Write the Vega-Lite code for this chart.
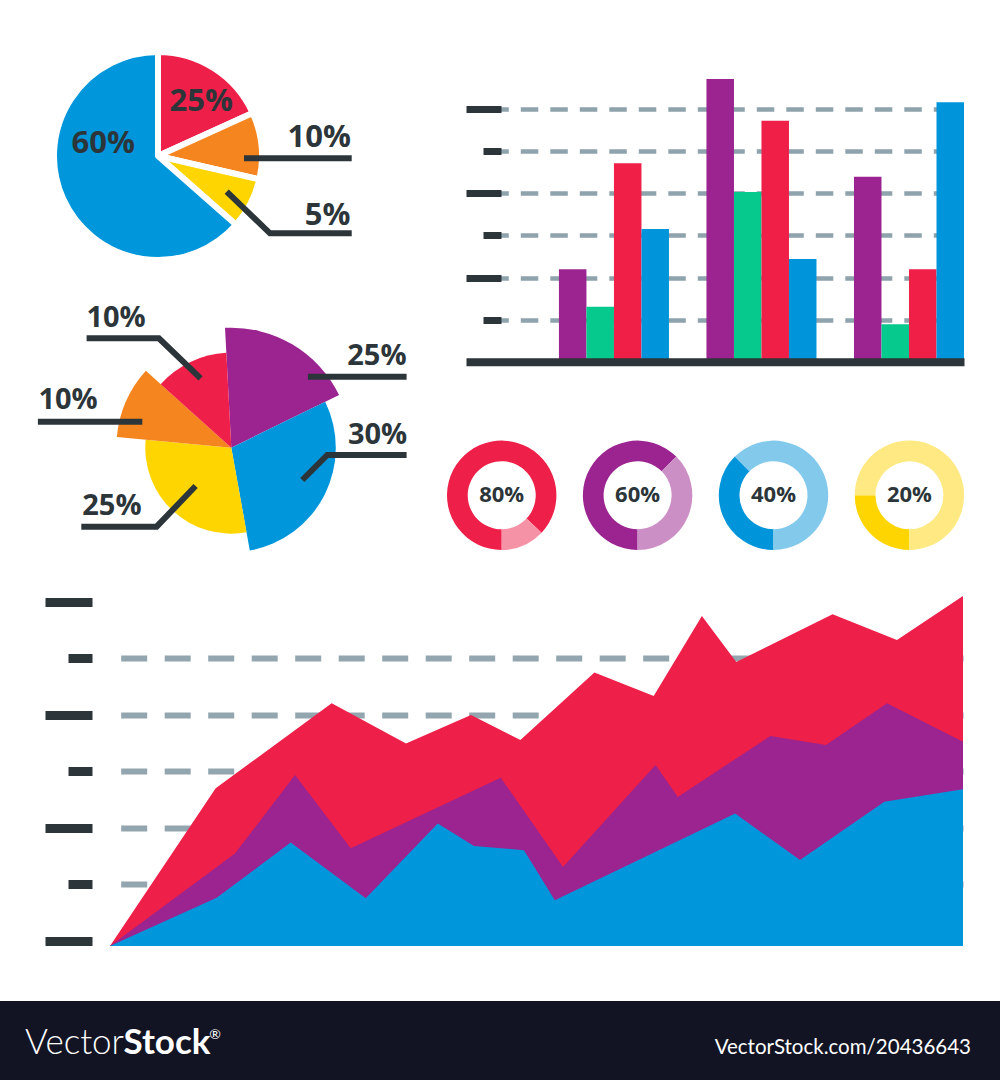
{
  "$schema": "https://vega.github.io/schema/vega-lite/v6.json",
  "background": "#ffffff",
  "padding": 0,
  "spacing": 0,
  "resolve": {"scale": {"color": "independent", "theta": "independent", "radius": "independent"}},
  "config": {"view": {"stroke": null}, "font": "Open Sans"},
  "datasets": {
    "pie1": [
      {"label": "25%", "share": 18.2, "seq": 1},
      {"label": "10%", "share": 10.4, "seq": 2},
      {"label": "5%", "share": 7.9, "seq": 3},
      {"label": "60%", "share": 63.5, "seq": 4}
    ],
    "pie1Leaders": [
      {"leader": "10%", "seq": 1, "x": 0.86, "y": -0.023},
      {"leader": "10%", "seq": 2, "x": 1.937, "y": -0.023},
      {"leader": "5%", "seq": 1, "x": 0.687, "y": -0.357},
      {"leader": "5%", "seq": 2, "x": 1.12, "y": -0.773},
      {"leader": "5%", "seq": 3, "x": 1.937, "y": -0.773}
    ],
    "pie1Labels": [
      {"text": "25%", "x": 0.433, "y": 0.453},
      {"text": "60%", "x": -0.547, "y": 0.027},
      {"text": "10%", "x": 1.613, "y": 0.093},
      {"text": "5%", "x": 1.695, "y": -0.69}
    ],
    "pie2": [
      {"segment": "S1", "from": 0, "to": 18.6, "reach": 12},
      {"segment": "S2", "from": 18.6, "to": 48.0, "reach": 10.45},
      {"segment": "S3", "from": 48.0, "to": 77.3, "reach": 8.6},
      {"segment": "S4", "from": 77.3, "to": 87.5, "reach": 11.5},
      {"segment": "S5", "from": 87.5, "to": 100, "reach": 9.5}
    ],
    "pie2Leaders": [
      {"leader": "L1", "seq": 1, "x": -0.307, "y": 0.694},
      {"leader": "L1", "seq": 2, "x": -0.724, "y": 1.094},
      {"leader": "L1", "seq": 3, "x": -1.447, "y": 1.094},
      {"leader": "L2", "seq": 1, "x": -0.89, "y": 0.26},
      {"leader": "L2", "seq": 2, "x": -1.934, "y": 0.26},
      {"leader": "L3", "seq": 1, "x": -0.357, "y": -0.383},
      {"leader": "L3", "seq": 2, "x": -0.747, "y": -0.79},
      {"leader": "L3", "seq": 3, "x": -1.5, "y": -0.79},
      {"leader": "L4", "seq": 1, "x": 0.766, "y": 0.71},
      {"leader": "L4", "seq": 2, "x": 1.753, "y": 0.71},
      {"leader": "L5", "seq": 1, "x": 0.71, "y": -0.323},
      {"leader": "L5", "seq": 2, "x": 0.96, "y": -0.073},
      {"leader": "L5", "seq": 3, "x": 1.753, "y": -0.073}
    ],
    "pie2Labels": [
      {"text": "10%", "x": -1.152, "y": 1.21},
      {"text": "10%", "x": -1.632, "y": 0.387},
      {"text": "25%", "x": -1.194, "y": -0.673},
      {"text": "25%", "x": 1.456, "y": 0.827},
      {"text": "30%", "x": 1.463, "y": 0.037}
    ],
    "bars": [
      {"group": "G1", "series": "S1", "value": 2.196},
      {"group": "G1", "series": "S2", "value": 1.307},
      {"group": "G1", "series": "S3", "value": 4.716},
      {"group": "G1", "series": "S4", "value": 3.154},
      {"group": "G2", "series": "S1", "value": 6.72},
      {"group": "G2", "series": "S2", "value": 4.034},
      {"group": "G2", "series": "S3", "value": 5.729},
      {"group": "G2", "series": "S4", "value": 2.441},
      {"group": "G3", "series": "S1", "value": 4.397},
      {"group": "G3", "series": "S2", "value": 0.889},
      {"group": "G3", "series": "S3", "value": 2.196},
      {"group": "G3", "series": "S4", "value": 6.166}
    ],
    "donuts": [
      {"ring": "80%", "part": "filled", "share": 87, "seq": 1},
      {"ring": "80%", "part": "rest", "share": 13, "seq": 2},
      {"ring": "60%", "part": "filled", "share": 62.5, "seq": 1},
      {"ring": "60%", "part": "rest", "share": 37.5, "seq": 2},
      {"ring": "40%", "part": "filled", "share": 37.5, "seq": 1},
      {"ring": "40%", "part": "rest", "share": 62.5, "seq": 2},
      {"ring": "20%", "part": "filled", "share": 25, "seq": 1},
      {"ring": "20%", "part": "rest", "share": 75, "seq": 2}
    ],
    "areas": [
      {"series": "A", "t": 0, "v": -0.09},
      {"series": "A", "t": 12.39, "v": 2.703},
      {"series": "A", "t": 25.99, "v": 4.207},
      {"series": "A", "t": 34.7, "v": 3.492},
      {"series": "A", "t": 42.32, "v": 4.0},
      {"series": "A", "t": 48.11, "v": 3.558},
      {"series": "A", "t": 56.79, "v": 4.749},
      {"series": "A", "t": 63.74, "v": 4.336},
      {"series": "A", "t": 69.39, "v": 5.752},
      {"series": "A", "t": 73.42, "v": 4.938},
      {"series": "A", "t": 84.71, "v": 5.782},
      {"series": "A", "t": 92.26, "v": 5.327},
      {"series": "A", "t": 100, "v": 6.106},
      {"series": "B", "t": 0, "v": -0.09},
      {"series": "B", "t": 14.65, "v": 1.545},
      {"series": "B", "t": 21.69, "v": 2.938},
      {"series": "B", "t": 28.22, "v": 1.641},
      {"series": "B", "t": 45.8, "v": 2.89},
      {"series": "B", "t": 53.11, "v": 1.31},
      {"series": "B", "t": 63.96, "v": 3.115},
      {"series": "B", "t": 66.57, "v": 2.549},
      {"series": "B", "t": 77.42, "v": 3.628},
      {"series": "B", "t": 83.94, "v": 3.469},
      {"series": "B", "t": 91.09, "v": 4.207},
      {"series": "B", "t": 100, "v": 3.527},
      {"series": "C", "t": 0, "v": -0.09},
      {"series": "C", "t": 12.51, "v": 0.766},
      {"series": "C", "t": 21.18, "v": 1.74},
      {"series": "C", "t": 29.98, "v": 0.756},
      {"series": "C", "t": 38.43, "v": 2.076},
      {"series": "C", "t": 42.67, "v": 1.681},
      {"series": "C", "t": 48.53, "v": 1.605},
      {"series": "C", "t": 52.15, "v": 0.72},
      {"series": "C", "t": 73.29, "v": 2.253},
      {"series": "C", "t": 80.89, "v": 1.434},
      {"series": "C", "t": 90.78, "v": 2.465},
      {"series": "C", "t": 100, "v": 2.685}
    ]
  },
  "vconcat": [
    {
      "hconcat": [
        {
          "vconcat": [
            {
              "width": 316,
              "height": 312,
              "layer": [
                {
                  "data": {"name": "pie1"},
                  "mark": {"type": "arc", "outerRadius": 104, "stroke": "#ffffff", "strokeWidth": 6, "strokeJoin": "round"},
                  "encoding": {
                    "theta": {"field": "share", "type": "quantitative", "stack": true},
                    "order": {"field": "seq", "type": "quantitative"},
                    "color": {"field": "label", "type": "nominal", "scale": {"domain": ["25%", "10%", "5%", "60%"], "range": ["#ee1f48", "#f5861f", "#ffd500", "#0096db"]}, "legend": null}
                  }
                },
                {
                  "data": {"name": "pie1Leaders"},
                  "mark": {"type": "line", "color": "#2c3539", "strokeWidth": 6, "strokeCap": "butt"},
                  "encoding": {
                    "x": {"field": "x", "type": "quantitative", "scale": {"domain": [-1.58, 1.58], "nice": false, "zero": false}, "axis": null},
                    "y": {"field": "y", "type": "quantitative", "scale": {"domain": [-1.56, 1.56], "nice": false, "zero": false}, "axis": null},
                    "detail": {"field": "leader", "type": "nominal"},
                    "order": {"field": "seq", "type": "quantitative"}
                  }
                },
                {
                  "data": {"name": "pie1Labels"},
                  "mark": {"type": "text", "font": "Open Sans", "fontSize": 31, "fontWeight": "bold", "color": "#2c3539", "align": "center", "baseline": "alphabetic"},
                  "encoding": {
                    "x": {"field": "x", "type": "quantitative"},
                    "y": {"field": "y", "type": "quantitative"},
                    "text": {"field": "text", "type": "nominal"}
                  }
                }
              ]
            },
            {
              "hconcat": [
                {"width": 16.4, "height": 1, "data": {"values": []}, "mark": {"type": "point", "opacity": 0}},
                {
                  "width": 428.6,
                  "height": 271.4,
                  "layer": [
                    {
                      "data": {"name": "pie2"},
                      "mark": {"type": "arc"},
                      "encoding": {
                        "theta": {"field": "from", "type": "quantitative", "stack": null, "scale": {"domain": [0, 100], "range": [-0.0524, 6.2308]}},
                        "theta2": {"field": "to"},
                        "radius": {"field": "reach", "type": "quantitative", "scale": {"type": "linear", "domain": [0, 12], "range": [0, 120]}},
                        "radius2": {"datum": 0},
                        "color": {"field": "segment", "type": "nominal", "scale": {"domain": ["S1", "S2", "S3", "S4", "S5"], "range": ["#9b2490", "#0096db", "#ffd500", "#f5861f", "#ee1f48"]}, "legend": null}
                      }
                    },
                    {
                      "data": {"name": "pie2Leaders"},
                      "mark": {"type": "line", "color": "#2c3539", "strokeWidth": 6, "strokeCap": "butt"},
                      "encoding": {
                        "x": {"field": "x", "type": "quantitative", "scale": {"domain": [-2.143, 2.143], "nice": false, "zero": false}, "axis": null},
                        "y": {"field": "y", "type": "quantitative", "scale": {"domain": [-1.357, 1.357], "nice": false, "zero": false}, "axis": null},
                        "detail": {"field": "leader", "type": "nominal"},
                        "order": {"field": "seq", "type": "quantitative"}
                      }
                    },
                    {
                      "data": {"name": "pie2Labels"},
                      "mark": {"type": "text", "font": "Open Sans", "fontSize": 29, "fontWeight": "bold", "color": "#2c3539", "align": "center", "baseline": "alphabetic"},
                      "encoding": {
                        "x": {"field": "x", "type": "quantitative"},
                        "y": {"field": "y", "type": "quantitative"},
                        "text": {"field": "text", "type": "nominal"}
                      }
                    }
                  ]
                }
              ],
              "spacing": 0,
              "bounds": "flush",
              "resolve": {"scale": {"color": "independent", "theta": "independent", "radius": "independent"}}
            }
          ],
          "spacing": 0,
          "bounds": "flush",
          "resolve": {"scale": {"color": "independent", "theta": "independent", "radius": "independent"}}
        },
        {
          "vconcat": [
            {
              "width": 518,
              "height": 366,
              "data": {"name": "bars"},
              "mark": {"type": "bar"},
              "encoding": {
                "x": {"field": "group", "type": "nominal", "scale": {"paddingInner": 0.2542, "paddingOuter": 0.3828, "align": 1},
                      "axis": {"title": null, "labels": false, "ticks": false, "grid": false, "domain": true, "domainWidth": 8, "domainColor": "#2c3539", "domainDash": [0, 20, 500], "offset": -4.3, "zindex": 1}},
                "xOffset": {"field": "series", "type": "nominal", "scale": {"paddingInner": 0, "paddingOuter": 0}},
                "y": {"field": "value", "type": "quantitative", "scale": {"domain": [-0.1022, 8.598], "nice": false},
                      "axis": {"title": null, "labels": false, "domain": false, "values": [1, 2, 3, 4, 5, 6], "offset": -55,
                               "tickSize": {"condition": {"test": "datum.value % 2 === 0", "value": 35}, "value": 18},
                               "tickWidth": 7, "tickColor": "#2c3539",
                               "grid": true, "gridColor": "#8fa3ad", "gridWidth": 4.5,
                               "gridDash": [0, 44.8, 17.5, 12, 17.5, 12, 17.5, 12, 17.5, 12, 17.5, 12, 17.5, 12, 17.5, 12, 17.5, 12, 17.5, 12, 17.5, 12, 17.5, 12, 17.5, 12, 17.5, 12, 17.5, 12, 17.5, 12, 17.5, 12]}},
                "color": {"field": "series", "type": "nominal", "scale": {"domain": ["S1", "S2", "S3", "S4"], "range": ["#9b2490", "#06c98e", "#ef1f48", "#0095da"]}, "legend": null}
              }
            },
            {"width": 1, "height": 30.4, "data": {"values": []}, "mark": {"type": "point", "opacity": 0}},
            {
              "hconcat": [
                {
                  "width": 111.4, "height": 196.6,
                  "data": {"name": "donuts"},
                  "transform": [{"filter": "datum.ring === '80%'"}],
                  "layer": [
                    {"mark": {"type": "arc", "innerRadius": 34, "outerRadius": 54.7},
                     "encoding": {"theta": {"field": "share", "type": "quantitative", "stack": true, "scale": {"range": [3.14159, 9.42478]}},
                                  "order": {"field": "seq", "type": "quantitative"},
                                  "color": {"field": "part", "type": "nominal", "scale": {"domain": ["filled", "rest"], "range": ["#ee1f48", "#f592a6"]}, "legend": null}}},
                    {"transform": [{"filter": "datum.part === 'filled'"}],
                     "mark": {"type": "text", "font": "Open Sans", "fontWeight": "bold", "fontSize": 22, "color": "#2c3539", "baseline": "middle"},
                     "encoding": {"text": {"field": "ring", "type": "nominal"}}}
                  ]
                },
                {
                  "width": 111.4, "height": 196.6,
                  "data": {"name": "donuts"},
                  "transform": [{"filter": "datum.ring === '60%'"}],
                  "layer": [
                    {"mark": {"type": "arc", "innerRadius": 34, "outerRadius": 54.7},
                     "encoding": {"theta": {"field": "share", "type": "quantitative", "stack": true, "scale": {"range": [3.14159, 9.42478]}},
                                  "order": {"field": "seq", "type": "quantitative"},
                                  "color": {"field": "part", "type": "nominal", "scale": {"domain": ["filled", "rest"], "range": ["#9b2490", "#cb8fc5"]}, "legend": null}}},
                    {"transform": [{"filter": "datum.part === 'filled'"}],
                     "mark": {"type": "text", "font": "Open Sans", "fontWeight": "bold", "fontSize": 22, "color": "#2c3539", "baseline": "middle"},
                     "encoding": {"text": {"field": "ring", "type": "nominal"}}}
                  ]
                },
                {
                  "width": 111.4, "height": 196.6,
                  "data": {"name": "donuts"},
                  "transform": [{"filter": "datum.ring === '40%'"}],
                  "layer": [
                    {"mark": {"type": "arc", "innerRadius": 34, "outerRadius": 54.7},
                     "encoding": {"theta": {"field": "share", "type": "quantitative", "stack": true, "scale": {"range": [3.14159, 9.42478]}},
                                  "order": {"field": "seq", "type": "quantitative"},
                                  "color": {"field": "part", "type": "nominal", "scale": {"domain": ["filled", "rest"], "range": ["#0095da", "#82c9ec"]}, "legend": null}}},
                    {"transform": [{"filter": "datum.part === 'filled'"}],
                     "mark": {"type": "text", "font": "Open Sans", "fontWeight": "bold", "fontSize": 22, "color": "#2c3539", "baseline": "middle"},
                     "encoding": {"text": {"field": "ring", "type": "nominal"}}}
                  ]
                },
                {
                  "width": 111.4, "height": 196.6,
                  "data": {"name": "donuts"},
                  "transform": [{"filter": "datum.ring === '20%'"}],
                  "layer": [
                    {"mark": {"type": "arc", "innerRadius": 34, "outerRadius": 54.7},
                     "encoding": {"theta": {"field": "share", "type": "quantitative", "stack": true, "scale": {"range": [3.14159, 9.42478]}},
                                  "order": {"field": "seq", "type": "quantitative"},
                                  "color": {"field": "part", "type": "nominal", "scale": {"domain": ["filled", "rest"], "range": ["#ffd500", "#ffe982"]}, "legend": null}}},
                    {"transform": [{"filter": "datum.part === 'filled'"}],
                     "mark": {"type": "text", "font": "Open Sans", "fontWeight": "bold", "fontSize": 22, "color": "#2c3539", "baseline": "middle"},
                     "encoding": {"text": {"field": "ring", "type": "nominal"}}}
                  ]
                }
              ],
              "spacing": 23.9,
              "bounds": "flush",
              "resolve": {"scale": {"color": "independent", "theta": "independent", "radius": "independent"}}
            }
          ],
          "spacing": 0,
          "bounds": "flush",
          "resolve": {"scale": {"color": "independent", "theta": "independent", "radius": "independent"}}
        }
      ],
      "spacing": 0,
      "resolve": {"scale": {"color": "independent", "theta": "independent", "radius": "independent"}}
    },
    {
      "hconcat": [
        {"width": 110, "height": 1, "data": {"values": []}, "mark": {"type": "point", "opacity": 0}},
        {
          "width": 853,
          "height": 352,
          "data": {"name": "areas"},
          "encoding": {
            "x": {"field": "t", "type": "quantitative", "scale": {"domain": [0, 100], "nice": false, "zero": false}, "axis": null},
            "y": {"field": "v", "type": "quantitative", "scale": {"domain": [-0.09, 6.14], "nice": false, "zero": false},
                  "axis": {"title": null, "labels": false, "domain": false, "values": [0, 1, 2, 3, 4, 5, 6], "offset": 18,
                           "tickSize": {"condition": {"test": "datum.value % 2 === 0", "value": 47}, "value": 24},
                           "tickWidth": 9, "tickColor": "#2c3539",
                           "grid": true, "gridColor": "#93a5ae", "gridWidth": 6, "gridDash": [26, 17.5], "gridDashOffset": 32.8,
                           "gridOpacity": {"condition": {"test": "datum.value === 0 || datum.value === 6", "value": 0}, "value": 1}}},
            "y2": {"datum": -0.09}
          },
          "layer": [
            {"transform": [{"filter": "datum.series === 'A'"}], "mark": {"type": "area", "color": "#ee1f48", "opacity": 1}},
            {"transform": [{"filter": "datum.series === 'B'"}], "mark": {"type": "area", "color": "#9b2490", "opacity": 1}},
            {"transform": [{"filter": "datum.series === 'C'"}], "mark": {"type": "area", "color": "#0096db", "opacity": 1}}
          ]
        }
      ],
      "spacing": 0,
      "bounds": "flush"
    },
    {"width": 1, "height": 55, "data": {"values": []}, "mark": {"type": "point", "opacity": 0}},
    {
      "hconcat": [
        {
          "width": 47, "height": 80,
          "view": {"fill": "#121424", "stroke": null},
          "data": {"values": []},
          "mark": {"type": "point", "opacity": 0}
        },
        {
          "width": 154, "height": 80,
          "view": {"fill": "#121424", "stroke": null},
          "data": {"values": [{"word": "Vector"}]},
          "mark": {"type": "text", "align": "right", "baseline": "alphabetic", "dy": 13, "fontSize": 35, "font": "Lato", "fontWeight": 300, "color": "#ffffff"},
          "encoding": {"text": {"field": "word", "type": "nominal"}}
        },
        {
          "width": 19, "height": 80,
          "view": {"fill": "#121424", "stroke": null},
          "data": {"values": [{"word": "Stock"}]},
          "mark": {"type": "text", "align": "right", "baseline": "alphabetic", "dy": 13, "fontSize": 35, "font": "Lato", "fontWeight": "bold", "color": "#ffffff"},
          "encoding": {"text": {"field": "word", "type": "nominal"}}
        },
        {
          "width": 2, "height": 80,
          "view": {"fill": "#121424", "stroke": null},
          "data": {"values": [{"word": "®"}]},
          "mark": {"type": "text", "align": "right", "baseline": "alphabetic", "dy": -2, "fontSize": 14, "font": "Lato", "color": "#ffffff"},
          "encoding": {"text": {"field": "word", "type": "nominal"}}
        },
        {
          "width": 720, "height": 80,
          "view": {"fill": "#121424", "stroke": null},
          "data": {"values": []},
          "mark": {"type": "point", "opacity": 0}
        },
        {
          "width": 58, "height": 80,
          "view": {"fill": "#121424", "stroke": null},
          "data": {"values": [{"word": "VectorStock.com/20436643"}]},
          "mark": {"type": "text", "align": "right", "baseline": "alphabetic", "dy": 13, "fontSize": 20.5, "font": "Lato", "color": "#ffffff"},
          "encoding": {"text": {"field": "word", "type": "nominal"}}
        }
      ],
      "spacing": 0,
      "bounds": "flush"
    }
  ]
}
